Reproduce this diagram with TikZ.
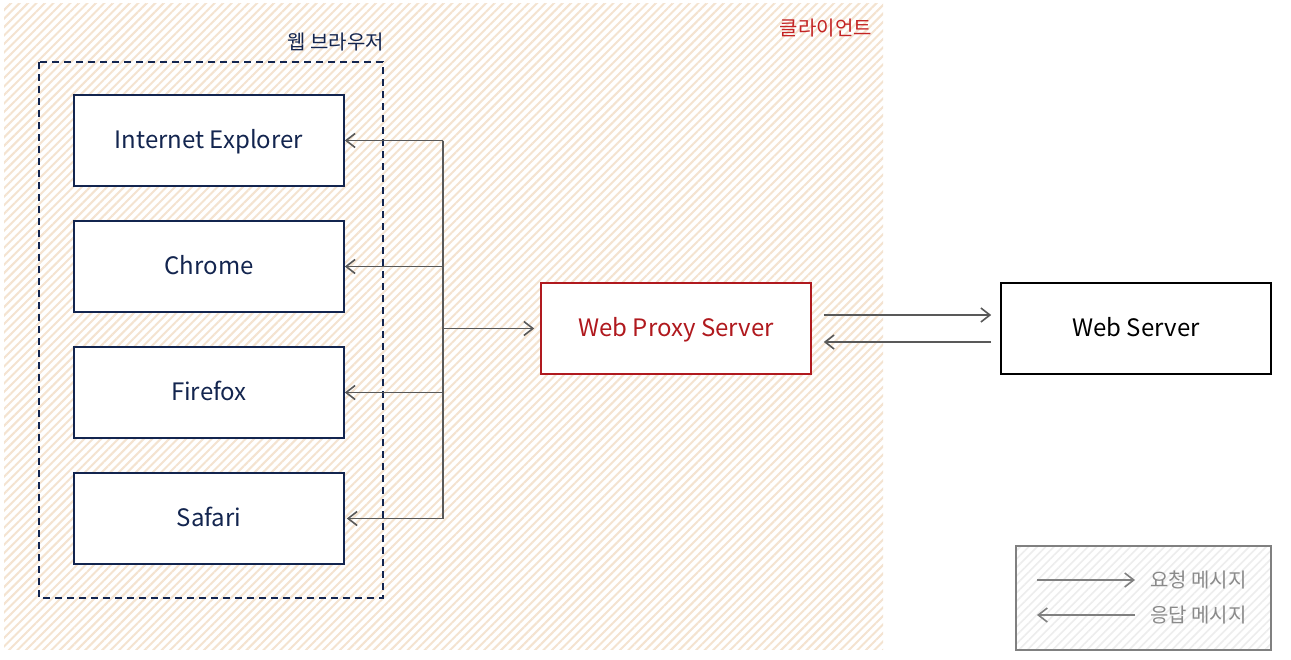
\documentclass[tikz,border=0pt]{standalone}
\usepackage{fontspec}
\setmainfont{Noto Sans CJK KR}
\usetikzlibrary{arrows.meta,patterns.meta}
\definecolor{navy}{HTML}{13254F}
\definecolor{peach}{HTML}{F4E3D0}
\definecolor{proxyred}{HTML}{B0191E}
\definecolor{clientred}{HTML}{C42424}
\definecolor{arrowgray}{HTML}{595959}
\definecolor{legendgray}{HTML}{808080}
\definecolor{legendtext}{HTML}{8A8A8A}
\definecolor{hatchgray}{HTML}{EDEDED}
\tikzset{
  browser/.style={draw=navy, line width=1.6pt, fill=white, minimum width=270pt, minimum height=91pt, text=navy, text height=19pt, text depth=4pt, font=\fontsize{24}{28}\selectfont},
  server/.style={draw=#1, line width=1.6pt, fill=white, minimum width=270pt, minimum height=91pt, text height=19pt, text depth=4pt, font=\fontsize{24}{28}\selectfont},
  arr/.style={draw=arrowgray, line width=1.6pt, -{Straight Barb[length=9pt,width=14pt,line width=1.6pt]}},
  larr/.style={draw=legendgray, line width=1.6pt, -{Straight Barb[length=9pt,width=14pt,line width=1.6pt]}},
  lbl/.style={inner sep=0pt, font=\fontsize{20}{24}\selectfont},
}
\begin{document}
\begin{tikzpicture}[x=1pt,y=-1pt]
\useasboundingbox (0,0) rectangle (1291,659);
\fill[white] (0,0) rectangle (1291,659);
% client area
\path[pattern={Lines[angle=45,distance=6pt,line width=2pt]}, pattern color=peach] (4,3) rectangle (883,649);
\node[lbl, text=clientred, anchor=east] (client) at (872,28) {클라이언트};
% browser group
\draw[navy, line width=1.6pt, dash pattern=on 7pt off 5pt] (39,62) rectangle (383,598);
\node[lbl, text=navy, anchor=east] (browsers) at (384,42) {웹 브라우저};
\node[browser] (ie) at (209,140.5) {Internet Explorer};
\node[browser] (chrome) at (209,266.5) {Chrome};
\node[browser] (firefox) at (209,392.5) {Firefox};
\node[browser] (safari) at (209,518.5) {Safari};
% servers
\node[server=proxyred, text=proxyred] (proxy) at (676,328.5) {Web Proxy Server};
\node[server=black, text=black] (web) at (1136,328.5) {Web Server};
% trunk
\coordinate (ttop) at (443,140.5);
\coordinate (tbot) at (443,518.5);
\coordinate (tmid) at (443,328.5);
\draw[arrowgray, line width=1.6pt] (ttop) -- (tbot);
\draw[arr] (ttop) -- (ie.east);
\draw[arr] (ttop|-chrome.east) -- (chrome.east);
\draw[arr] (ttop|-firefox.east) -- (firefox.east);
\draw[arr, shorten >=2pt] (tbot) -- (safari.east);
\draw[arr, shorten >=6pt] (tmid) -- (proxy.west);
% proxy <-> web server
\draw[arr, shorten <=12pt, shorten >=9pt] ([yshift=13.5pt]proxy.east) -- ([yshift=13.5pt]proxy.east-|web.west);
\draw[arr, shorten <=9pt, shorten >=12pt] ([yshift=-13.5pt]proxy.east-|web.west) -- ([yshift=-13.5pt]proxy.east);
% legend
\node[draw=legendgray, line width=1.6pt, minimum width=255pt, minimum height=104pt, pattern={Lines[angle=45,distance=6pt,line width=1.6pt]}, pattern color=hatchgray] (legend) at (1143.5,598) {};
\coordinate (l1a) at (1037,580);
\coordinate (l1b) at (1135,580);
\coordinate (l2a) at (1037,615);
\coordinate (l2b) at (1135,615);
\draw[larr] (l1a) -- (l1b);
\draw[larr] (l2b) -- (l2a);
\node[lbl, text=legendtext, anchor=west] (req) at (1150,580) {요청 메시지};
\node[lbl, text=legendtext, anchor=west] (res) at (1150,615) {응답 메시지};
\end{tikzpicture}
\end{document}
